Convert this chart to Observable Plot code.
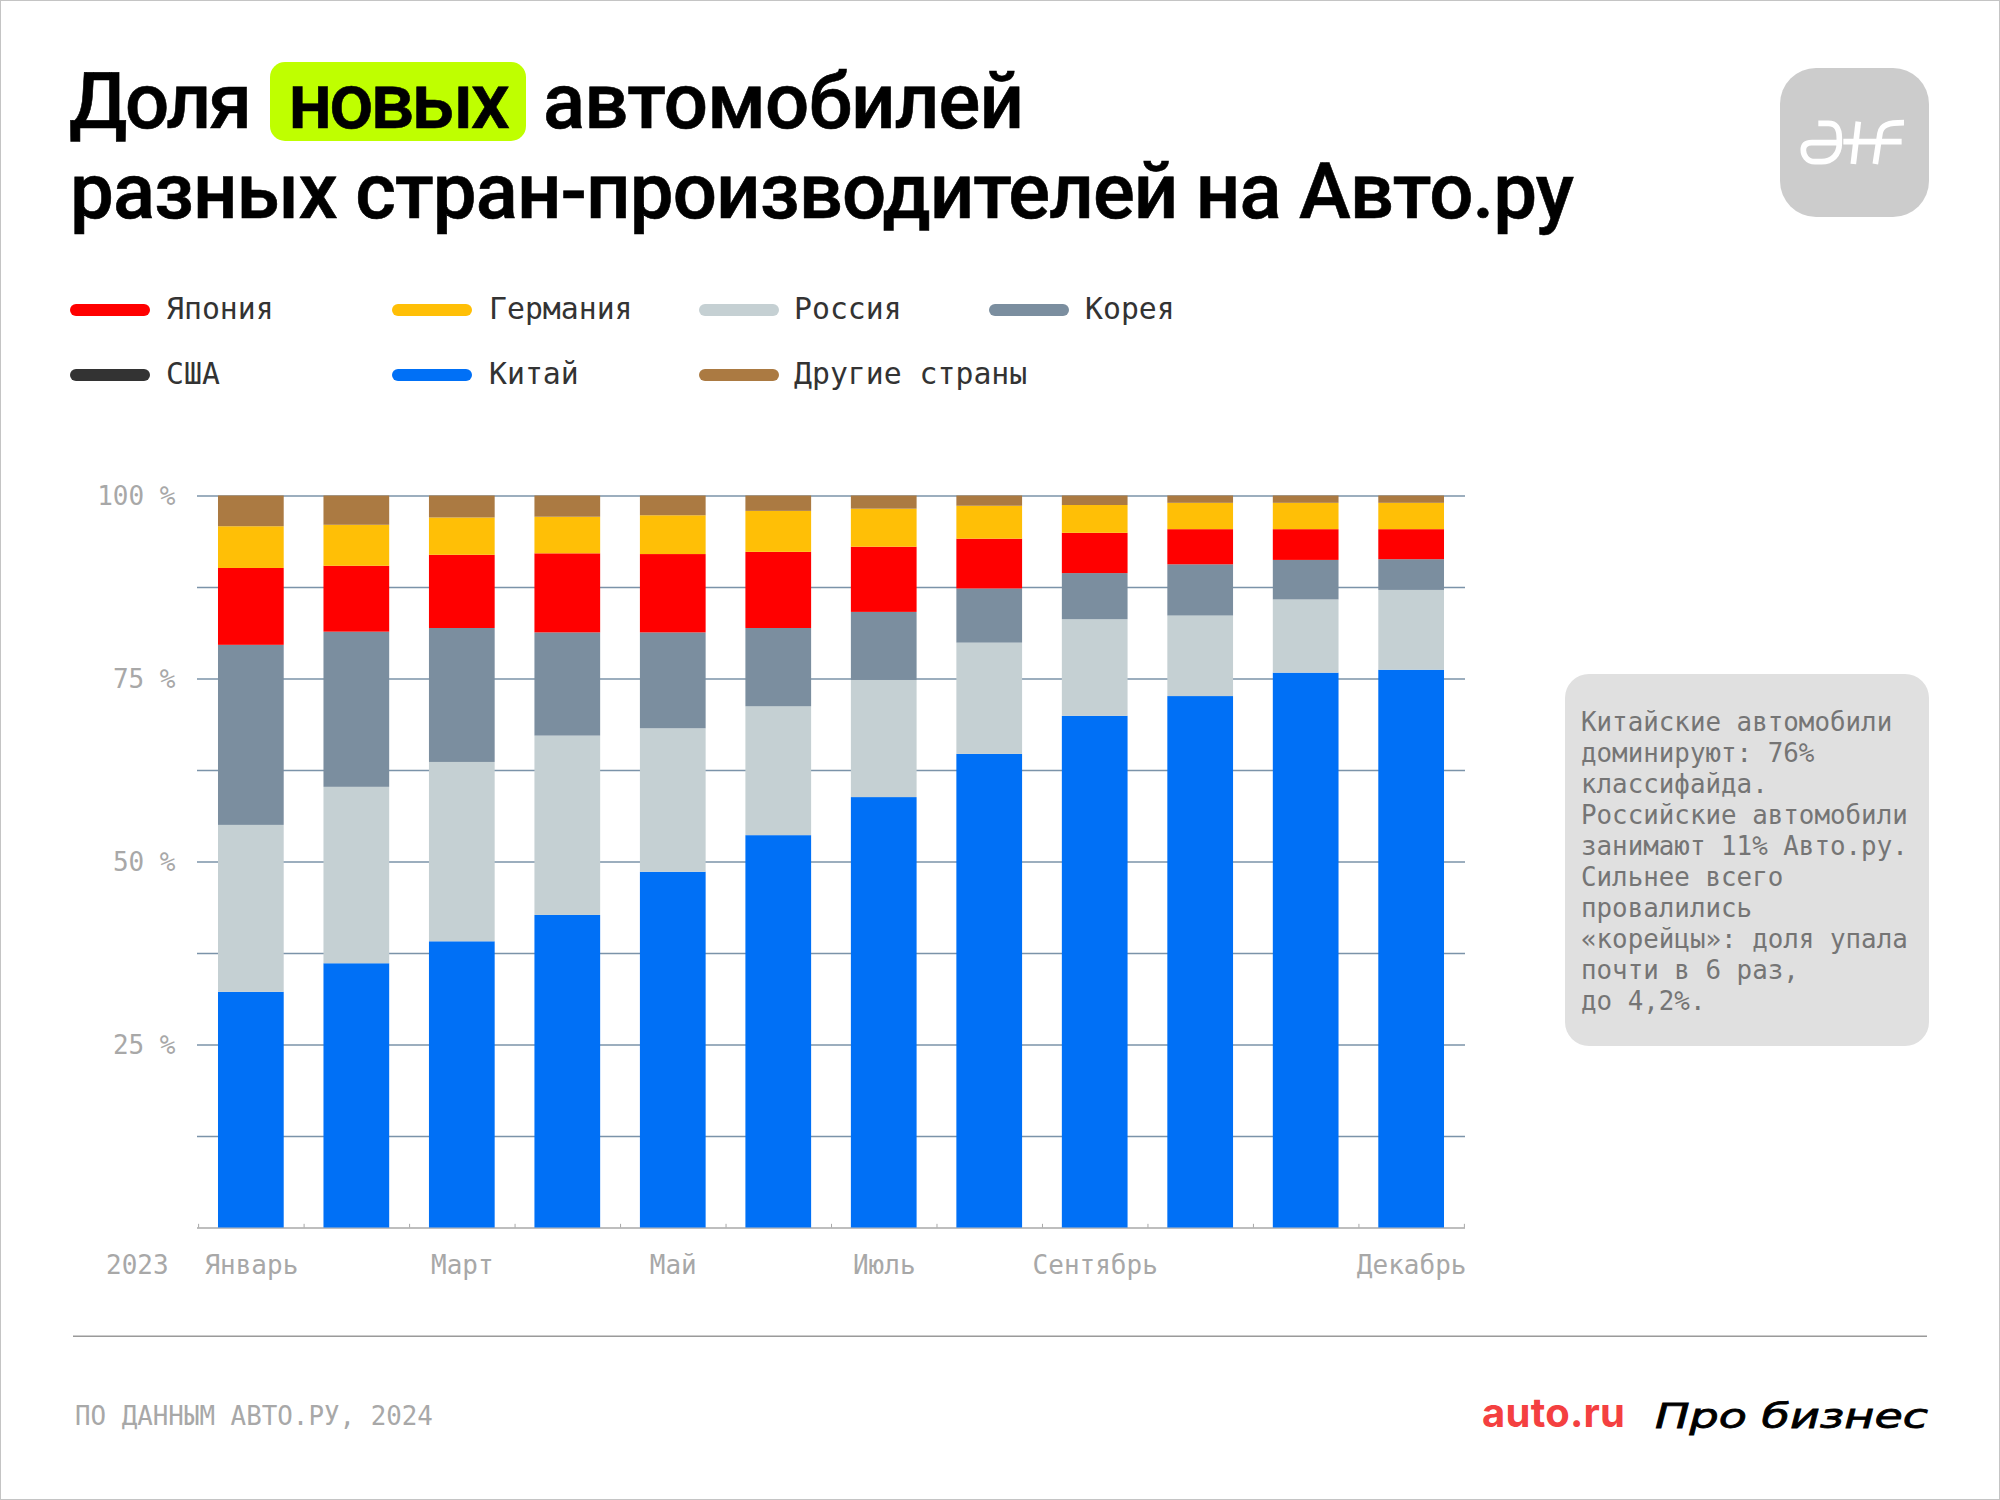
<!DOCTYPE html>
<html lang="ru">
<head>
<meta charset="utf-8">
<title>Доля новых автомобилей</title>
<script src="https://cdn.jsdelivr.net/npm/d3@7"></script>
<script src="https://cdn.jsdelivr.net/npm/@observablehq/plot@0.6"></script>
<style>
  html,body{margin:0;padding:0;background:#fff;}
  #page{position:relative;width:2000px;height:1500px;background:#fff;overflow:hidden;}
  #frame{position:absolute;left:0;top:0;width:2000px;height:1500px;box-sizing:border-box;border:1px solid #c4c4c4;}
  #overlay{position:absolute;left:0;top:0;}
  #chart{position:absolute;left:0;top:440px;}
  text.mono{font-family:"DejaVu Sans Mono",monospace;}
</style>
</head>
<body>
<div id="page">
  <div id="frame"></div>
  <div id="chart"></div>
  <svg id="overlay" width="2000" height="1500" xmlns="http://www.w3.org/2000/svg"></svg>
</div>
<script>
// ---------- data ----------
const months = ["Январь","Февраль","Март","Апрель","Май","Июнь","Июль","Август","Сентябрь","Октябрь","Ноябрь","Декабрь"];
const monthLabels = ["Январь","Март","Май","Июль","Сентябрь","Декабрь"];
const china   = [32.2,36.1,39.1,42.7,48.6,53.6,58.8,64.7,69.9,72.6,75.8,76.2];
const russia  = [22.8,24.1,24.5,24.5,19.6,17.6,16.0,15.2,13.2,11.0,10.0,10.9];
const korea   = [24.6,21.2,18.3,14.1,13.1,10.7,9.3,7.4,6.3,7.0,5.4,4.2];
const japan   = [10.5,9.0,10.0,10.8,10.7,10.4,8.9,6.8,5.5,4.8,4.2,4.1];
const germany = [5.7,5.6,5.1,5.0,5.3,5.6,5.2,4.5,3.8,3.6,3.6,3.6];
const usa     = [0,0,0,0,0,0,0,0,0,0,0,0];
const others  = [4.2,4.0,3.0,2.9,2.7,2.1,1.8,1.4,1.3,1.0,1.0,1.0];
const yLabels = [25,50,75,100];
const gridLines = [12.5,25,37.5,50,62.5,75,87.5,100];
const stackOrder = ["Китай","Россия","Корея","Япония","Германия","США","Другие страны"];
const stackColors = ["#0070f6","#c5d0d3","#7b8e9f","#ff0000","#ffbf06","#333333","#ab7a42"];
const stackValues = [china,russia,korea,japan,germany,usa,others];
const legendRow1 = ["Япония","Германия","Россия","Корея"];
const legendRow2 = ["США","Китай","Другие страны"];
const noteLines = ["Китайские автомобили","доминируют: 76%","классифайда.","Российские автомобили","занимают 11% Авто.ру.","Сильнее всего","провалились","«корейцы»: доля упала","почти в 6 раз,","до 4,2%."];

// ---------- chart ----------
const rows = stackOrder.flatMap((s,i) => months.map((m,j) => ({month:m, series:s, value:stackValues[i][j]})));
const labelColor = "#a8a8a8";
const step = 105.45;
const plot = Plot.plot({
  width:2000, height:860,
  marginLeft:197, marginRight:535, marginTop:55.5, marginBottom:72.5,
  style:{fontFamily:'"DejaVu Sans Mono",monospace',fontSize:"26px",background:"transparent"},
  x:{domain:months, paddingInner:0.377, paddingOuter:0.199, round:false, label:null},
  y:{domain:[0,100], label:null},
  color:{domain:stackOrder, range:stackColors},
  marks:[
    Plot.ruleY(gridLines,{stroke:"#7b93a9",strokeWidth:1.5}),
    Plot.ruleY([0],{stroke:"#a8a8a8",strokeWidth:1.5}),
    Plot.ruleX(months,{x:d=>d,y1:0,y2:0.5,dx:-step/2,stroke:"#a8a8a8",strokeWidth:1}),
    Plot.ruleX(months.slice(-1),{x:d=>d,y1:0,y2:0.5,dx:step/2,stroke:"#a8a8a8",strokeWidth:1}),
    Plot.barY(rows,{x:"month",y:"value",fill:"series",order:stackOrder}),
    Plot.axisY({ticks:yLabels,tickSize:0,tickPadding:22,dy:1,tickFormat:d=>d+" %",fill:labelColor,label:null}),
    Plot.axisX({ticks:monthLabels,tickSize:0,tickPadding:28,fill:labelColor,label:null})
  ]
});
document.getElementById("chart").appendChild(plot);

// ---------- page furniture ----------
const ov = d3.select("#overlay");
const colorOf = s => stackColors[stackOrder.indexOf(s)];
function put(str,x,y,size,fill,opts={}){
  const t = ov.append("text").attr("x",x).attr("y",y).attr("fill",fill).attr("font-size",size).text(str);
  if(opts.mono!==false) t.attr("class","mono");
  if(opts.family) t.attr("font-family",opts.family);
  if(opts.weight) t.attr("font-weight",opts.weight);
  if(opts.style) t.attr("font-style",opts.style);
  if(opts.stroke) t.attr("stroke",fill).attr("stroke-width",opts.stroke);
  if(opts.len) t.attr("textLength",opts.len).attr("lengthAdjust",opts.adjust||"spacing");
  return t;
}
// title
ov.append("rect").attr("x",270).attr("y",62).attr("width",256).attr("height",79).attr("rx",15).attr("fill","#bfff00");
const tf = {mono:false,family:'Roboto',weight:500,stroke:0.6};
put("Доля",69,128,78,"#000",{...tf,len:183});
put("новых",288,128,78,"#000",{...tf,len:222});
put("автомобилей",543,128,78,"#000",{...tf,len:481});
put("разных стран-производителей на Авто.ру",70,218,78,"#000",{...tf,len:1504});
// logo
ov.append("rect").attr("x",1780).attr("y",68).attr("width",149).attr("height",149).attr("rx",36).attr("fill","#cccccc");
const lg = ov.append("g").attr("transform","translate(1700,40) scale(0.3333)").attr("fill","none").attr("stroke","#fff").attr("stroke-width",17);
lg.append("path").attr("d","M355 250H385C412 250 418 270 418 295V310C418 345 395 365 365 365H345C320 365 310 345 310 330C310 315 318 308 335 308H420");
lg.append("path").attr("d","M475 245L460 372");
lg.append("path").attr("d","M526 372L540 280C544 255 565 248 612 248");
lg.append("path").attr("d","M430 305H605");
// legend
const swatchX = [70,392,699,989], textX = [166,489,794,1085];
[[legendRow1,304,319],[legendRow2,369,384]].forEach(([names,sy,ty]) => names.forEach((n,i) => {
  ov.append("rect").attr("x",swatchX[i]).attr("y",sy).attr("width",80).attr("height",12).attr("rx",6).attr("fill",colorOf(n));
  put(n,textX[i],ty,29.8,"#333333");
}));
// note
ov.append("rect").attr("x",1565).attr("y",674).attr("width",364).attr("height",372).attr("rx",24).attr("fill","#e0e0e0");
noteLines.forEach((l,i) => put(l,1581,731+i*31,25.85,"#757575"));
// year, rule, footer
put("2023",106,1274,26,labelColor);
ov.append("rect").attr("x",73).attr("y",1335.5).attr("width",1854).attr("height",1.5).attr("fill","#9a9a9a");
put("ПО ДАННЫМ АВТО.РУ, 2024",75,1425,25.85,labelColor);
put("auto.ru",1482,1427,40,"#f44040",{mono:false,family:'Inter',weight:700,len:143});
put("Про бизнес",1655,1428,34,"#000",{mono:false,family:'"DejaVu Sans"',style:"italic",stroke:0.8,len:273,adjust:"spacingAndGlyphs"});
</script>
</body>
</html>
